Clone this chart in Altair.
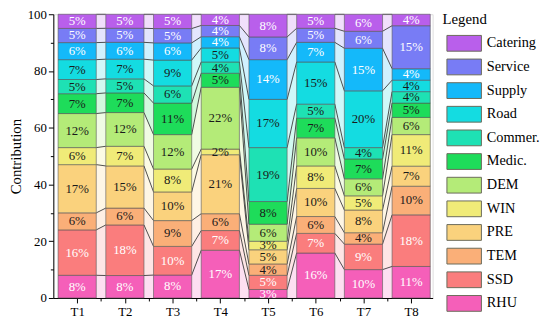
import altair as alt
import pandas as pd

periods = ["T1", "T2", "T3", "T4", "T5", "T6", "T7", "T8"]
categories = ["RHU", "SSD", "TEM", "PRE", "WIN", "DEM", "Medic.", "Commer.", "Road", "Supply", "Service", "Catering"]
colors = ["#f55fb9", "#fa7d7d", "#faaf78", "#fad27d", "#f0eb78", "#b4eb78",
          "#1edc5a", "#1ee1b4", "#14dce1", "#14b9fa", "#787cf5", "#b95feb"]
text_colors = ["#ffffff", "#ffffff", "#1a1a1a", "#1a1a1a", "#1a1a1a", "#1a1a1a",
               "#1a1a1a", "#1a1a1a", "#1a1a1a", "#ffffff", "#ffffff", "#ffffff"]

RHU = [8, 8, 8, 17, 3, 16, 10, 11]
SSD = [16, 18, 10, 7, 5, 7, 9, 18]
TEM = [6, 6, 9, 6, 4, 6, 4, 10]
PRE = [17, 15, 10, 21, 5, 10, 8, 7]
WIN = [6, 7, 8, 2, 3, 8, 5, 11]
DEM = [12, 12, 12, 22, 6, 10, 6, 6]
Medic = [7, 7, 11, 5, 8, 7, 7, 5]
Commer = [5, 5, 6, 4, 19, 5, 4, 4]
Road = [7, 7, 9, 5, 17, 15, 20, 4]
Supply = [6, 6, 6, 4, 14, 7, 15, 4]
Service = [5, 5, 5, 4, 8, 5, 6, 15]
Catering = [5, 5, 5, 4, 8, 5, 6, 4]
values = [RHU, SSD, TEM, PRE, WIN, DEM, Medic, Commer, Road, Supply, Service, Catering]

FONT = "Liberation Serif"
half = 0.4

rows = []
for i, p in enumerate(periods):
    total = sum(v[i] for v in values)
    cum = 0.0
    for k, c in enumerate(categories):
        pct = values[k][i] / total * 100
        rows.append(dict(period=p, idx=i + 1, cat=c, order=k, value=values[k][i],
                         y0=cum, y1=cum + pct, label=f"{values[k][i]}%", tcol=text_colors[k]))
        cum += pct
df = pd.DataFrame(rows)
df["x0"] = df["idx"] - half
df["x1"] = df["idx"] + half
df["ym"] = (df["y0"] + df["y1"]) / 2

conn = []
for i in range(len(periods) - 1):
    for c in categories:
        a = df[(df.idx == i + 1) & (df.cat == c)].iloc[0]
        b = df[(df.idx == i + 2) & (df.cat == c)].iloc[0]
        key = f"{i}-{c}"
        conn.append(dict(key=key, cat=c, x=i + 1 + half, y0=a.y0, y1=a.y1))
        conn.append(dict(key=key, cat=c, x=i + 2 - half, y0=b.y0, y1=b.y1))
cdf = pd.DataFrame(conn)

xscale = alt.Scale(domain=[0.5, 8.45], nice=False, zero=False)
yscale = alt.Scale(domain=[0, 100], nice=False, zero=False)
cscale = alt.Scale(domain=categories[::-1], range=colors[::-1])

legend = alt.Legend(title="Legend", orient="none", legendX=395, legendY=-2,
                    symbolType="M-1,-1H3.375V1H-1Z", symbolSize=256,
                    symbolStrokeColor="#6b6b5a", symbolStrokeWidth=1,
                    symbolOpacity=1, labelFont=FONT, labelFontSize=14.5,
                    labelColor="black", titleFont=FONT, titleFontSize=15,
                    titleFontWeight="normal", titleColor="black",
                    rowPadding=3, labelOffset=24, symbolOffset=4,
                    titlePadding=8)
color_enc = alt.Color("cat:N", scale=cscale, legend=legend)

areas = alt.Chart(cdf).mark_area(opacity=0.2).encode(
    x=alt.X("x:Q", scale=xscale, axis=None),
    y=alt.Y("y1:Q", scale=yscale, axis=None),
    y2="y0:Q",
    color=color_enc,
    detail="key:N",
)

lines = alt.Chart(cdf).mark_line(color="#3a3a3a", strokeWidth=0.9).encode(
    x=alt.X("x:Q", scale=xscale, axis=None),
    y=alt.Y("y1:Q", scale=yscale, axis=None),
    detail="key:N",
)

bars = alt.Chart(df).mark_rect(stroke="#555555", strokeWidth=0.6).encode(
    x=alt.X("x0:Q", scale=xscale,
            axis=alt.Axis(values=list(range(1, 9)), labelExpr="'T' + datum.value", title=None,
                          tickSize=5, labelFont=FONT, labelFontSize=13, labelColor="black",
                          domainColor="black", tickColor="black", grid=False, labelPadding=3,
                          orient="bottom")),
    x2="x1:Q",
    y=alt.Y("y0:Q", scale=yscale,
            axis=alt.Axis(values=list(range(0, 101, 20)), title="Contribution", tickSize=5,
                          labelFont=FONT, labelFontSize=13, labelColor="black",
                          titleFont=FONT, titleFontSize=15, titleFontWeight="normal",
                          titleColor="black", domainColor="black", tickColor="black",
                          grid=False, labelPadding=2, titlePadding=4, orient="left")),
    y2="y1:Q",
    color=color_enc,
)

texts = alt.Chart(df).mark_text(font=FONT, fontSize=13).encode(
    x=alt.X("idx:Q", scale=xscale, axis=None),
    y=alt.Y("ym:Q", scale=yscale, axis=None),
    text="label:N",
    color=alt.Color("tcol:N", scale=None),
)

minor = alt.Chart(df).mark_point(opacity=0).encode(
    x=alt.X("idx:Q", scale=xscale,
            axis=alt.Axis(values=[1.5, 2.5, 3.5, 4.5, 5.5, 6.5, 7.5], labels=False, tickSize=3,
                          domain=False, grid=False, title=None, tickColor="black", orient="bottom")),
    y=alt.Y("ym:Q", scale=yscale,
            axis=alt.Axis(values=[10, 30, 50, 70, 90], labels=False, tickSize=3,
                          domain=False, grid=False, title=None, tickColor="black", orient="left")),
)

chart = alt.layer(areas, lines, bars, texts, minor).resolve_axis(
    x="independent", y="independent"
).properties(
    width=385, height=288,
    autosize=alt.AutoSizeParams(type="none"),
    padding={"left": 46, "top": 4, "right": 111, "bottom": 20},
).configure_view(stroke="black", strokeWidth=1).configure(background="white")

chart.save("out.html", embed_options={"renderer": "svg", "actions": False})
